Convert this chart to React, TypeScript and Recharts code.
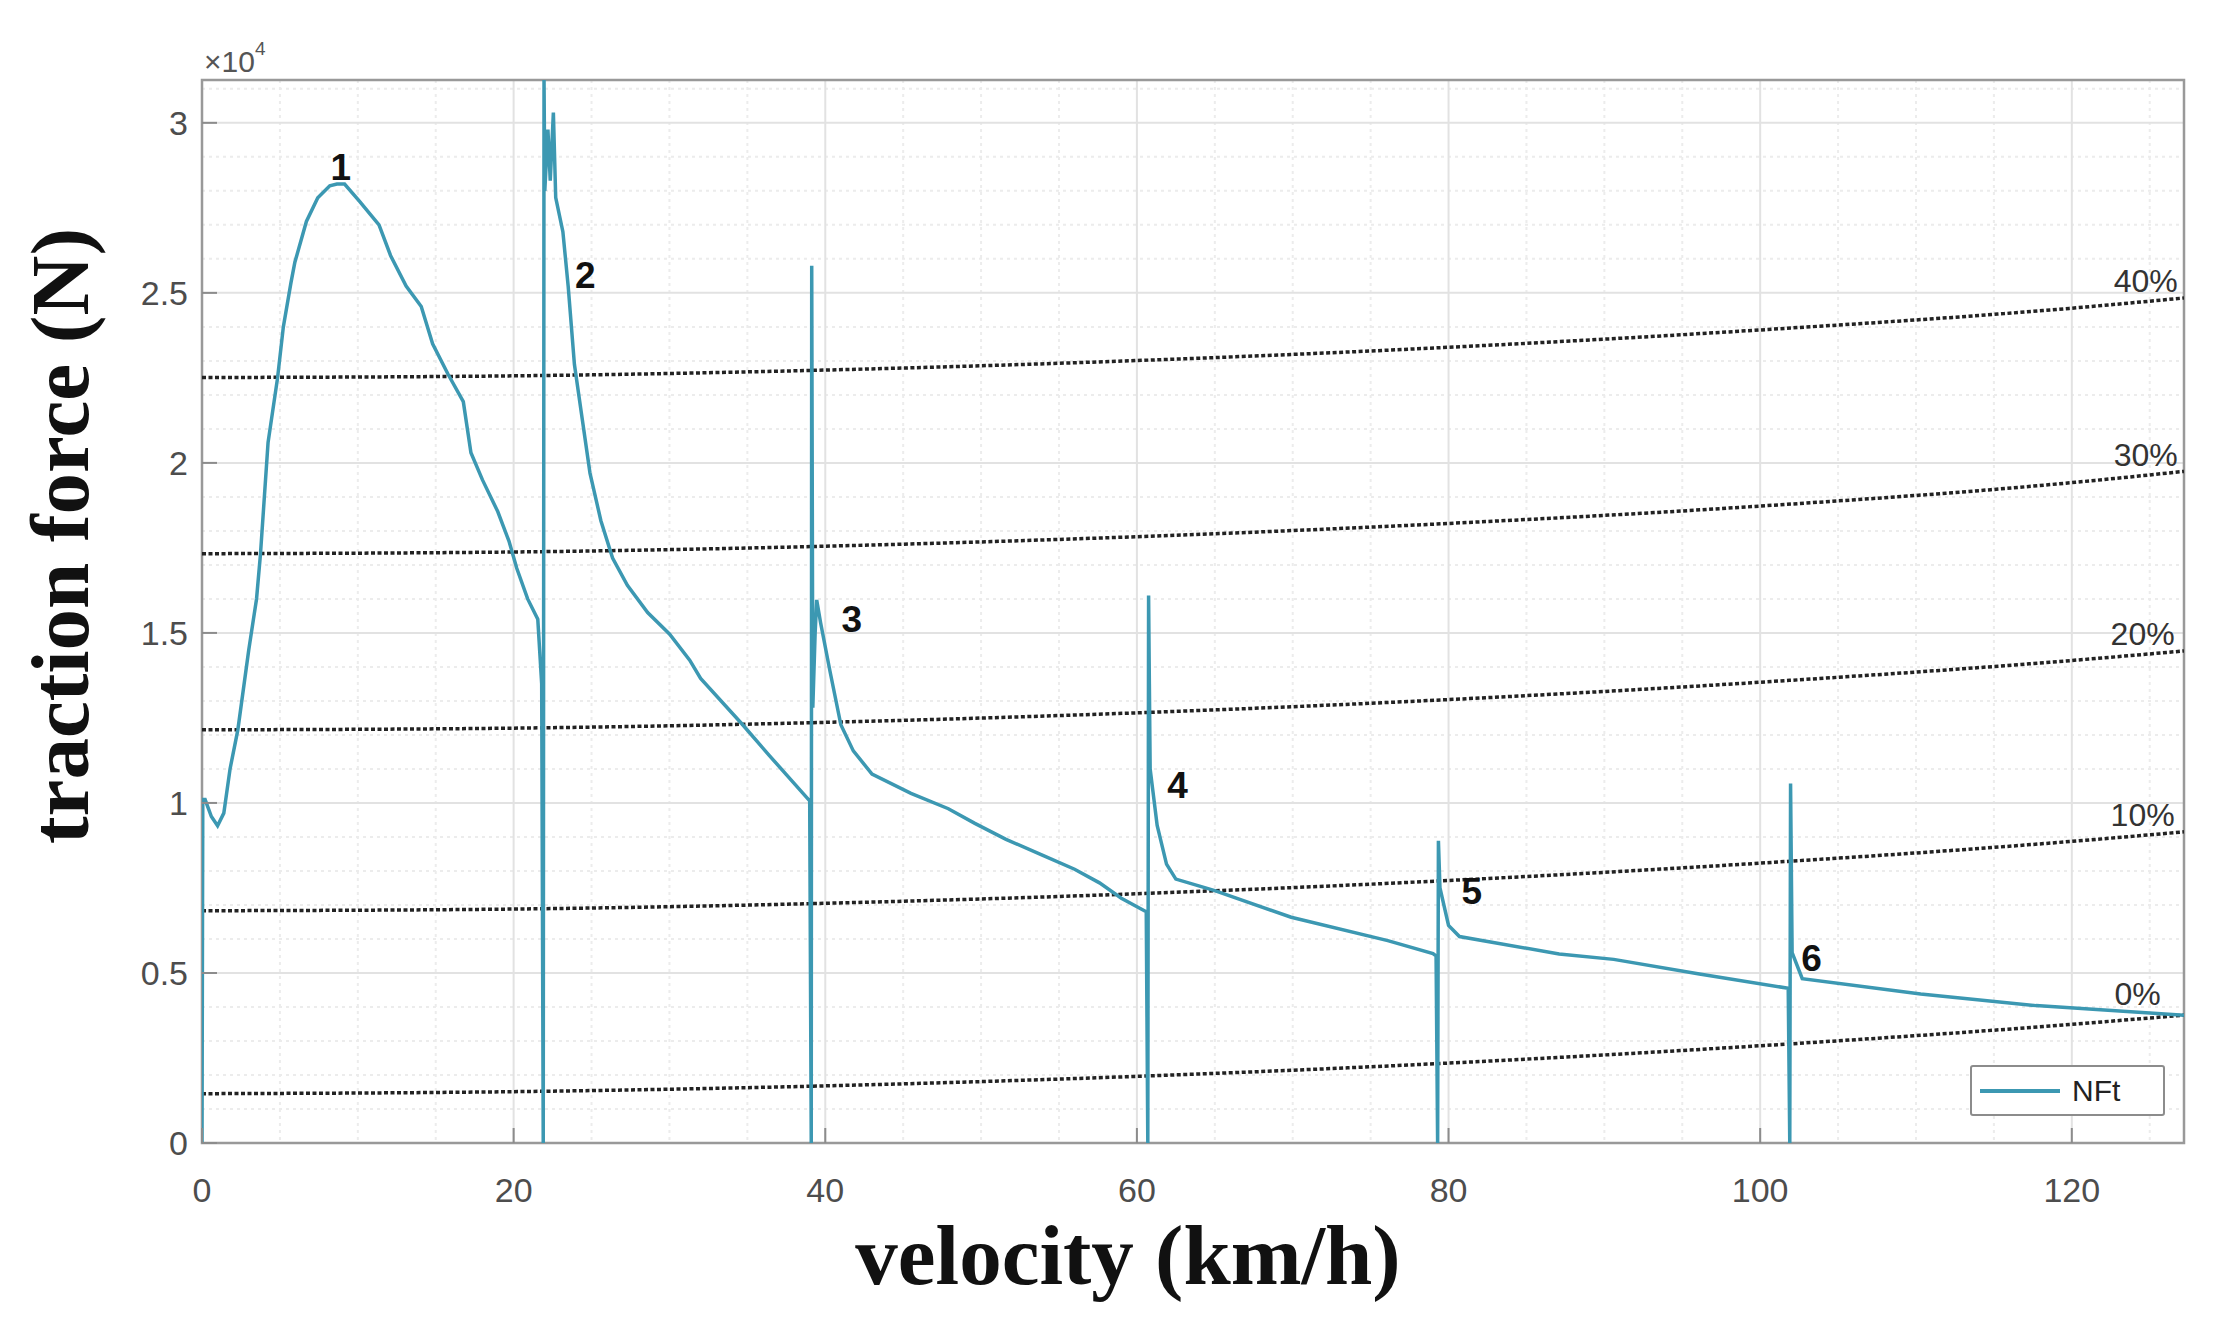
import React from "react";
import {
  ComposedChart,
  Line,
  Scatter,
  XAxis,
  YAxis,
  CartesianGrid,
  ReferenceArea,
  Legend,
} from "recharts";

// NFt traction force curve (km/h, N)
const nftVelocity = [
  0, 0.05, 0.2, 0.6, 1.0, 1.4, 1.8, 2.3, 3.0, 3.5, 3.75, 4.24, 4.85, 5.22, 5.71, 5.96, 6.7, 7.43, 8.2, 8.66,
  9.15, 10.1, 11.36, 12.1, 13.1, 14.07, 14.8, 15.8, 16.77, 17.26, 18.0, 18.98, 19.7, 20.2, 20.9, 21.55, 21.8,
  21.9, 21.95, 22.0, 22.2, 22.35, 22.55, 22.7, 23.16, 23.5, 23.9, 24.4, 24.9, 25.6, 26.35, 27.3, 28.6, 30.0,
  31.3, 32.0, 34.7, 36.4, 39.0, 39.1, 39.13, 39.2, 39.35, 39.45, 39.7, 40.3, 41.0, 41.8, 43.0, 45.5, 47.9,
  49.6, 51.6, 54.0, 56.0, 57.6, 59.0, 60.6, 60.7, 60.75, 60.8, 60.85, 61.3, 61.9, 62.5, 65.0, 69.9, 76.1,
  79.0, 79.2, 79.3, 79.35, 79.45, 80.0, 80.7, 87.1, 90.6, 96.1, 101.8, 101.9, 101.95, 102.05, 102.7, 110.3,
  117.7, 127.2,
];
const nftForce = [
  0, 10100, 10100, 9600, 9330, 9700, 11000, 12150, 14500, 16000, 17300, 20600, 22500, 24000, 25300, 25900,
  27100, 27800, 28150, 28200, 28200, 27700, 27000, 26100, 25200, 24600, 23500, 22600, 21800, 20300, 19500,
  18570, 17700, 16900, 16000, 15400, 13500, 0, 31300, 28000, 29800, 28300, 30300, 27800, 26800, 25200, 22900,
  21300, 19700, 18300, 17200, 16400, 15600, 14970, 14200, 13660, 12300, 11400, 10060, 0, 25800, 12800, 15000,
  15970, 15300, 13880, 12300, 11530, 10850, 10280, 9830, 9400, 8930, 8450, 8050, 7650, 7200, 6800, 0, 16100,
  13500, 11000, 9340, 8200, 7760, 7420, 6640, 5950, 5570, 5500, 0, 8890, 7500, 6400, 6070, 5560, 5400, 4970,
  4550, 0, 10570, 5600, 4830, 4380, 4040, 3760,
];

// grade resistance lines (0% .. 40%)
const gradeVelocity = [0, 20, 40, 60, 80, 100, 120, 127.2];
const grade0 = [1450, 1510, 1680, 1960, 2350, 2860, 3490, 3760];
const grade10 = [6830, 6880, 7050, 7330, 7720, 8230, 8870, 9150];
const grade20 = [12150, 12200, 12370, 12650, 13040, 13550, 14190, 14470];
const grade30 = [17330, 17380, 17550, 17830, 18220, 18730, 19420, 19750];
const grade40 = [22510, 22560, 22730, 23010, 23400, 23910, 24550, 24850];

const gearLabels = ["1", "2", "3", "4", "5", "6"];
const gearLabelV = [8.9, 24.6, 41.7, 62.6, 81.5, 103.3];
const gearLabelF = [28700, 25500, 15400, 10500, 7400, 5440];

const gradeLabels = ["40%", "30%", "20%", "10%", "0%"];
const gradeLabelV = [126.8, 126.8, 126.6, 126.6, 125.7];
const gradeLabelF = [25350, 20240, 14970, 9650, 4380];

const xTicks = [0, 20, 40, 60, 80, 100, 120];
const yTicks = [0, 5000, 10000, 15000, 20000, 25000, 30000];
const yTickLabels = ["0", "0.5", "1", "1.5", "2", "2.5", "3"];
const X_MAX = 127.2;
const Y_MAX = 31260;

const xMinor = Array.from({ length: 26 }, (_, i) => i * 5).filter((v) => v % 20 !== 0 && v < X_MAX);
const yMinor = Array.from({ length: 32 }, (_, i) => i * 1000).filter((v) => v % 5000 !== 0);

const nftData = nftVelocity.map((v, i) => ({ v, f: nftForce[i] }));
const toSeries = (vals: number[]) => gradeVelocity.map((v, i) => ({ v, f: vals[i] }));
const gradeSeries = [grade0, grade10, grade20, grade30, grade40].map(toSeries);
const gearData = gearLabels.map((text, i) => ({ v: gearLabelV[i], f: gearLabelF[i], text }));
const gradeLabelData = gradeLabels.map((text, i) => ({ v: gradeLabelV[i], f: gradeLabelF[i], text }));

const TEAL = "#3c98b2";
const TICK_FONT = "'Liberation Sans', Arial, sans-serif";
const TITLE_FONT = "'Liberation Serif', 'Times New Roman', serif";

const XTick = (props: any) => {
  const { x, y, payload } = props;
  return (
    <g>
      <line x1={x} x2={x} y1={y} y2={y - 15} stroke="#8c8c8c" strokeWidth={2} />
      <text x={x} y={y + 59} textAnchor="middle" fontSize={34} fill="#4d4d4d" fontFamily={TICK_FONT}>
        {payload.value}
      </text>
    </g>
  );
};

const YTick = (props: any) => {
  const { x, y, payload } = props;
  const idx = yTicks.indexOf(payload.value);
  return (
    <g>
      <line x1={x} x2={x + 15} y1={y} y2={y} stroke="#8c8c8c" strokeWidth={2} />
      <text x={x - 14} y={y + 12} textAnchor="end" fontSize={34} fill="#4d4d4d" fontFamily={TICK_FONT}>
        {yTickLabels[idx]}
      </text>
    </g>
  );
};

const YTitle = () => (
  <g>
    <text
      x={88}
      y={536}
      transform="rotate(-90 88 536)"
      textAnchor="middle"
      fontSize={83}
      fontWeight="bold"
      fontFamily={TITLE_FONT}
      fill="#111"
    >
      traction force (N)
    </text>
    <text x={204} y={72} fontSize={30} fill="#555" fontFamily={TICK_FONT}>
      ×10
      <tspan dy={-17} fontSize={19}>
        4
      </tspan>
    </text>
  </g>
);

const XTitle = () => (
  <text
    x={1128}
    y={1284}
    textAnchor="middle"
    fontSize={85}
    fontWeight="bold"
    fontFamily={TITLE_FONT}
    fill="#111"
  >
    velocity (km/h)
  </text>
);

const GearText = (props: any) => (
  <text
    x={props.cx}
    y={props.cy}
    textAnchor="middle"
    dominantBaseline="central"
    fontSize={37}
    fontWeight="bold"
    fontFamily={TICK_FONT}
    fill="#111"
  >
    {props.payload.text}
  </text>
);

const GradeText = (props: any) => (
  <text
    x={props.cx}
    y={props.cy}
    textAnchor="end"
    dominantBaseline="central"
    fontSize={32}
    fontFamily={TICK_FONT}
    fill="#333"
  >
    {props.payload.text}
  </text>
);

const LegendBox = () => (
  <div
    style={{
      width: 195,
      height: 51,
      border: "2px solid #8c8c8c",
      borderRadius: 3,
      background: "#fff",
      display: "flex",
      alignItems: "center",
      boxSizing: "border-box",
    }}
  >
    <div style={{ width: 80, height: 4, background: TEAL, marginLeft: 8, marginRight: 12 }} />
    <span style={{ fontFamily: TICK_FONT, fontSize: 30, color: "#222" }}>NFt</span>
  </div>
);

export default function App() {
  return (
    <div style={{ position: "absolute", left: 0, top: 0, width: 2214, height: 1344, background: "#fff" }}>
      <ComposedChart width={2214} height={1344} margin={{ top: 80, right: 30, left: 0, bottom: 0 }}>
        <CartesianGrid
          stroke="#ececec"
          strokeWidth={2}
          strokeDasharray="3 4"
          verticalValues={xMinor}
          horizontalValues={yMinor}
        />
        <CartesianGrid stroke="#e2e2e2" strokeWidth={2} verticalValues={xTicks} horizontalValues={yTicks} />
        <XAxis
          type="number"
          dataKey="v"
          domain={[0, X_MAX]}
          ticks={xTicks}
          allowDataOverflow
          height={201}
          axisLine={false}
          tickLine={false}
          tickSize={0}
          tickMargin={0}
          tick={<XTick />}
          label={<XTitle />}
        />
        <YAxis
          type="number"
          domain={[0, Y_MAX]}
          ticks={yTicks}
          allowDataOverflow
          width={202}
          axisLine={false}
          tickLine={false}
          tickSize={0}
          tickMargin={0}
          tick={<YTick />}
          label={<YTitle />}
        />
        <ReferenceArea x1={0} x2={X_MAX} y1={0} y2={Y_MAX} fill="none" stroke="#999" strokeWidth={2.5} />
        {gradeSeries.map((d, i) => (
          <Line
            key={i}
            data={d}
            dataKey="f"
            type="monotone"
            stroke="#222"
            strokeWidth={3.5}
            strokeDasharray="4 2.5"
            dot={false}
            activeDot={false}
            isAnimationActive={false}
          />
        ))}
        <Line
          data={nftData}
          dataKey="f"
          name="NFt"
          type="linear"
          stroke={TEAL}
          strokeWidth={3.5}
          dot={false}
          activeDot={false}
          isAnimationActive={false}
        />
        <Scatter data={gearData} dataKey="f" shape={<GearText />} isAnimationActive={false} />
        <Scatter data={gradeLabelData} dataKey="f" shape={<GradeText />} isAnimationActive={false} />
        <Legend
          layout="vertical"
          align="center"
          verticalAlign="middle"
          content={<LegendBox />}
          wrapperStyle={{ left: 1970, top: 1065, width: 197, height: 53 }}
        />
      </ComposedChart>
    </div>
  );
}
